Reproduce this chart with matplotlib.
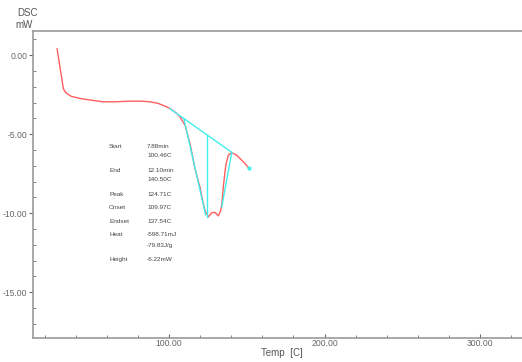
import matplotlib
matplotlib.use("Agg")
import matplotlib.pyplot as plt
from matplotlib.ticker import MultipleLocator, FormatStrFormatter

plt.rcParams["font.family"] = ["Liberation Sans Narrow", "Liberation Sans", "DejaVu Sans"]

# --- data -----------------------------------------------------------------
temp = [28.0, 30.0, 32.0, 33.0, 34.2, 37.0, 42.8, 50.0, 57.7, 65.0, 75.0,
        82.0, 87.8, 93.0, 98.5, 100.6, 105.0, 107.0, 110.3, 113.5, 116.7,
        120.0, 122.0, 123.2, 125.3, 126.5, 127.5, 129.6, 131.7, 133.0, 133.9,
        135.0, 136.5, 138.1, 140.3, 143.5, 147.8, 151.6]
dsc = [0.40, -0.85, -2.10, -2.30, -2.42, -2.60, -2.74, -2.85, -2.95, -2.95,
       -2.91, -2.91, -2.95, -3.05, -3.27, -3.38, -3.69, -3.90, -4.43, -5.60,
       -7.20, -8.40, -9.40, -9.85, -10.23, -10.10, -9.96, -9.95, -10.17, -9.90,
       -9.49, -8.23, -6.96, -6.33, -6.16, -6.33, -6.75, -7.17]

baseline_t = [100.46, 140.50]
baseline_v = [-3.38, -6.16]
peak_t = [124.71, 124.71]
peak_v = [-5.06, -10.25]
onset_t = [109.5, 123.5]
onset_v = [-4.00, -10.10]
endset_t = [133.9, 140.3]
endset_v = [-9.60, -6.16]

labels = ["Start", "", "End", "", "Peak", "Onset", "Endset", "Heat", "", "Height"]
values = ["7.88min", "100.46C", "12.10min", "140.50C", "124.71C", "109.97C",
          "137.54C", "-598.71mJ", "-79.83J/g", "-6.22mW"]
label_y = [146, 155.3, 170, 179.3, 194.3, 207.7, 221, 234, 245, 259.3]  # pixel rows

W, H = 522, 362
fig = plt.figure(figsize=(W / 100, H / 100), dpi=100)
ax = fig.add_axes([33 / W, (H - 338) / H, 1 - 33 / W, (338 - 31.5) / H])

red = "#ff5f5f"
cyan = "#40eeee"
ax.plot(temp, dsc, color=red, lw=1.0)
ax.plot(baseline_t, baseline_v, color=cyan, lw=1.0)
ax.plot(peak_t, peak_v, color=cyan, lw=1.0)
ax.plot(onset_t, onset_v, color=cyan, lw=1.0)
ax.plot(endset_t, endset_v, color=cyan, lw=1.0)
ax.plot([temp[-1]], [dsc[-1]], "o", color=cyan, ms=2)

ax.set_xlim(12.5, 327)
ax.set_ylim(-17.9, 1.5)

gray = "#9a9a9a"
for s in ("left", "top", "bottom"):
    ax.spines[s].set_color(gray)
    ax.spines[s].set_linewidth(1.2)
ax.spines["right"].set_visible(False)

ax.xaxis.set_major_locator(MultipleLocator(100))
ax.xaxis.set_minor_locator(MultipleLocator(20))
ax.yaxis.set_major_locator(MultipleLocator(5))
ax.yaxis.set_minor_locator(MultipleLocator(1))
ax.xaxis.set_major_formatter(FormatStrFormatter("%.2f"))
ax.yaxis.set_major_formatter(FormatStrFormatter("%.2f"))
ax.tick_params(axis="both", which="major", labelsize=6.2, labelcolor="#666666",
               color="#666666", length=3, width=0.8, pad=1)
ax.tick_params(axis="both", which="minor", color="#666666", length=2, width=0.6,
               direction="in")
ax.tick_params(axis="x", which="major", direction="in")
ax.tick_params(axis="y", which="major", direction="out")

txt = "#555555"
fig.text(27 / W, 1 - 13 / H, "DSC", fontsize=7, color=txt, ha="center", va="center")
fig.text(24 / W, 1 - 25 / H, "mW", fontsize=7, color=txt, ha="center", va="center")
fig.text(282 / W, 1 - 353 / H, "Temp  [C]", fontsize=7, color=txt, ha="center", va="center")

for lab, val, yy in zip(labels, values, label_y):
    if lab:
        fig.text(109 / W, 1 - yy / H, lab, fontsize=4.6, color="#444444", va="center")
    fig.text(147 / W, 1 - yy / H, val, fontsize=4.6, color="#444444", va="center")

fig.savefig("out.png", dpi=100)
